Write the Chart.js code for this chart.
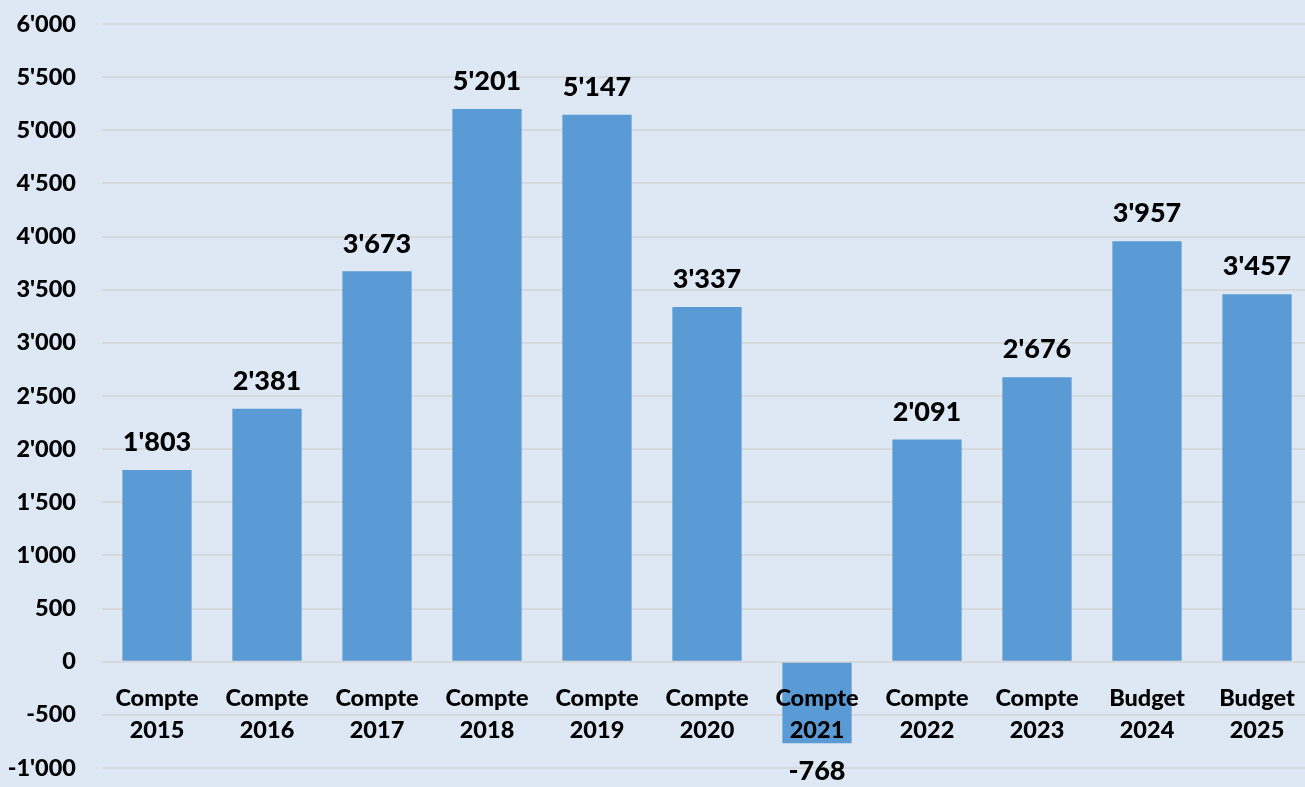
<!DOCTYPE html>
<html>
<head>
<meta charset="utf-8">
<script src="https://cdn.jsdelivr.net/npm/chart.js@4.4.1/dist/chart.umd.min.js"></script>
<style>
  html, body { margin: 0; padding: 0; background: #dde8f4; overflow: hidden; }
  #wrap { position: relative; width: 1312px; height: 787px; }
</style>
</head>
<body>
<div id="wrap"><canvas id="myChart"></canvas></div>
<script>
// data
const categories = [
  ['Compte', '2015'], ['Compte', '2016'], ['Compte', '2017'], ['Compte', '2018'],
  ['Compte', '2019'], ['Compte', '2020'], ['Compte', '2021'], ['Compte', '2022'],
  ['Compte', '2023'], ['Budget', '2024'], ['Budget', '2025']
];
const values = [1803, 2381, 3673, 5201, 5147, 3337, -768, 2091, 2676, 3957, 3457];
const yMin = -1000;
const yMax = 6000;
const yStep = 500;

const FONT = 'Lato, "Open Sans", sans-serif';

function fmt(n) {
  return Math.round(n).toLocaleString('en-US').replace(/,/g, "'");
}

// value labels above / below each bar
const valueLabels = {
  id: 'valueLabels',
  afterDatasetsDraw(chart) {
    const ctx = chart.ctx;
    const meta = chart.getDatasetMeta(0);
    ctx.save();
    ctx.font = '900 27px ' + FONT;
    ctx.fillStyle = '#000000';
    ctx.textAlign = 'center';
    meta.data.forEach((bar, i) => {
      const v = values[i];
      if (v >= 0) {
        ctx.textBaseline = 'bottom';
        ctx.fillText(fmt(v), bar.x, bar.y - 14);
      } else {
        ctx.textBaseline = 'top';
        ctx.fillText(fmt(v), bar.x, bar.y + 14);
      }
    });
    ctx.restore();
  }
};

const ctx = document.getElementById('myChart').getContext('2d');
new Chart(ctx, {
  type: 'bar',
  data: {
    labels: categories,
    datasets: [{
      data: values,
      backgroundColor: '#5b9bd5',
      borderWidth: 0,
      barPercentage: 0.63,
      categoryPercentage: 1
    }]
  },
  options: {
    responsive: true,
    maintainAspectRatio: false,
    animation: false,
    layout: { padding: { top: 24, bottom: 19, left: 0, right: 0 } },
    plugins: {
      legend: { display: false },
      tooltip: { enabled: false }
    },
    scales: {
      x: {
        position: { y: 0 },
        afterFit: (scale) => {
          scale.paddingLeft = 0;
          scale.paddingRight = 0;
        },
        grid: { display: false, drawTicks: false },
        border: { display: false },
        ticks: {
          z: 1,
          color: '#000000',
          padding: 21,
          maxRotation: 0,
          autoSkip: false,
          font: { family: FONT, size: 23.5, weight: '900', lineHeight: 1.36 }
        }
      },
      y: {
        min: yMin,
        max: yMax,
        afterFit: (scale) => {
          scale.width = 102;
          scale.paddingTop = 0;
          scale.paddingBottom = 0;
        },
        grid: { color: '#d6d9dc', lineWidth: 2, drawTicks: false },
        border: { display: false },
        ticks: {
          stepSize: yStep,
          color: '#000000',
          padding: 26,
          font: { family: FONT, size: 23.5, weight: '900' },
          callback: (v) => fmt(v)
        }
      }
    }
  },
  plugins: [valueLabels]
});
</script>
</body>
</html>
